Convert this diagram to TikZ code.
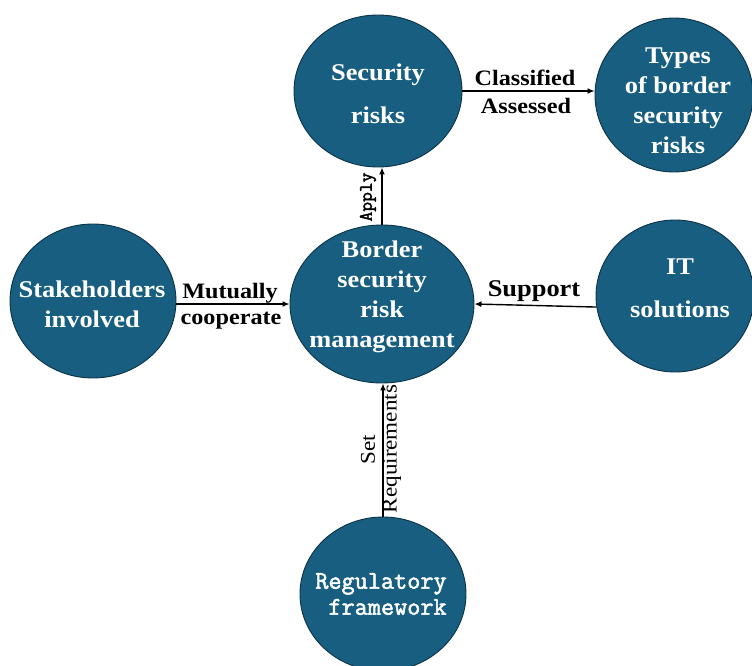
\documentclass[tikz,border=0pt]{standalone}
\usepackage{fontspec}
\setmainfont{Liberation Serif}[FakeStretch=1.1]
\setmonofont{Latin Modern Mono}[AutoFakeBold=2]
\usetikzlibrary{shapes.geometric,arrows.meta}
\definecolor{bubble}{RGB}{23,94,128}
\definecolor{rim}{RGB}{12,50,70}
\tikzset{
  bub/.style={ellipse, draw=rim, line width=0.9pt, fill=bubble, inner sep=0pt},
  btxt/.style={text=white, align=center, inner sep=0pt, font=\bfseries\fontsize{24}{30}\selectfont},
  lbl/.style={text=black, inner sep=0pt, anchor=base, font=\bfseries\fontsize{22}{26}\selectfont},
  conn/.style={line width=1.4pt, -{Latex[length=7pt,width=6pt]}}
}
\begin{document}
\begin{tikzpicture}[x=1pt,y=-1pt]
\useasboundingbox (0,0) rectangle (752,666);
% bubbles
\node[bub, minimum width=168pt, minimum height=152pt] (sr) at (378,91) {};
\node[bub, minimum width=158pt, minimum height=154pt] (ty) at (674,95) {};
\node[bub, minimum width=184pt, minimum height=158pt] (bd) at (382,304) {};
\node[bub, minimum width=166pt, minimum height=154pt] (sh) at (93,301) {};
\node[bub, minimum width=158pt, minimum height=152pt] (it) at (675,296) {};
\node[bub, minimum width=166pt, minimum height=154pt] (rf) at (383,594) {};
% bubble texts
\node[btxt, font=\bfseries\fontsize{24}{43}\selectfont] (srt) at (378,93.5) {Security\\risks};
\node[btxt] (tyt) at (678,100.5) {Types\\of border\\security\\risks};
\node[btxt] (bdt) at (382,296.5) {Border\\security\\risk\\management};
\node[btxt] (sht) at (92,304) {Stakeholders\\involved};
\node[btxt, font=\bfseries\fontsize{24}{43}\selectfont] (itt) at (680,288.5) {IT\\solutions};
\node[btxt, align=right, font=\ttfamily\bfseries\fontsize{25.5}{26}\selectfont] (rft) at (381,594) {Regulatory\\framework};
% connectors
\draw[conn] (sr.east) -- (sr.east -| ty.west);
\draw[conn] (bd.north) -- (bd.north |- sr.south);
\draw[conn] (bd.west -| sh.east) -- (bd.west);
\draw[conn] (it.188) -- (bd.east);
\draw[conn] (rf.north) -- (rf.north |- bd.south);
% labels
\node[lbl] (l1) at (525,86) {Classified};
\node[lbl] (l2) at (526,114) {Assessed};
\node[lbl] (l3) at (230,298) {Mutually};
\node[lbl] (l4) at (231,324) {cooperate};
\node[lbl, font=\bfseries\fontsize{24}{28}\selectfont] (l5) at (534,296) {Support};
\node[inner sep=0pt, rotate=90, font=\ttfamily\bfseries\fontsize{19}{20}\selectfont] (l6) at (368,197) {Apply};
\node[inner sep=0pt, rotate=90, font=\fontsize{21}{24}\selectfont] (l7) at (368,450) {Set};
\node[inner sep=0pt, rotate=90, font=\fontsize{21}{24}\selectfont] (l8) at (392,449) {Requirements};
\end{tikzpicture}
\end{document}
